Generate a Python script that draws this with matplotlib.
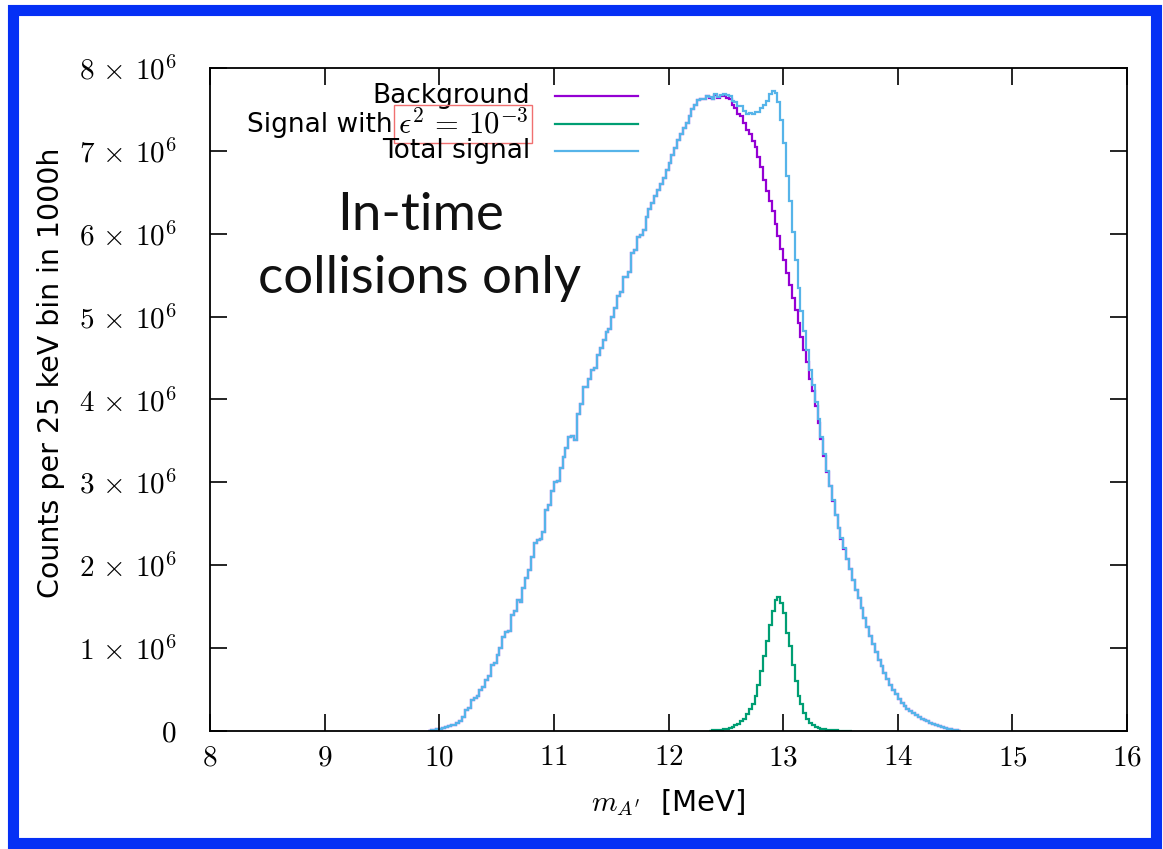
import numpy as np
import matplotlib
matplotlib.use("Agg")
import matplotlib.pyplot as plt
from matplotlib.patches import Rectangle
from matplotlib.ticker import FuncFormatter, MultipleLocator

# counts per 25 keV bin, in units of 1e6
bin_width = 0.025
bkg_start = 9.9
background = [
    0.005, 0.01, 0.015, 0.02, 0.025, 0.04, 0.045, 0.06,
    0.07, 0.075, 0.10, 0.12, 0.17, 0.25, 0.28, 0.37,
    0.40, 0.42, 0.50, 0.53, 0.61, 0.66, 0.80, 0.82,
    0.92, 1.00, 1.13, 1.19, 1.21, 1.40, 1.45, 1.58,
    1.56, 1.72, 1.85, 1.94, 2.10, 2.27, 2.30, 2.32,
    2.40, 2.67, 2.73, 2.90, 3.00, 3.02, 3.17, 3.30,
    3.41, 3.55, 3.56, 3.51, 3.83, 3.95, 4.15, 4.15,
    4.25, 4.36, 4.38, 4.54, 4.62, 4.72, 4.81, 4.85,
    5.00, 5.10, 5.25, 5.30, 5.48, 5.48, 5.54, 5.77,
    5.80, 5.96, 5.98, 6.04, 6.20, 6.30, 6.37, 6.45,
    6.53, 6.60, 6.67, 6.77, 6.85, 6.95, 7.03, 7.13,
    7.20, 7.27, 7.33, 7.42, 7.50, 7.55, 7.61, 7.63,
    7.62, 7.66, 7.64, 7.62, 7.67, 7.64, 7.66, 7.66,
    7.64, 7.62, 7.55, 7.52, 7.45, 7.42, 7.33, 7.25,
    7.20, 7.12, 7.05, 6.92, 6.80, 6.65, 6.52, 6.40,
    6.27, 6.12, 5.97, 5.82, 5.68, 5.52, 5.38, 5.22,
    5.08, 4.92, 4.75, 4.60, 4.45, 4.25, 4.10, 3.92,
    3.72, 3.52, 3.32, 3.12, 2.95, 2.78, 2.60, 2.45,
    2.32, 2.20, 2.07, 1.95, 1.82, 1.70, 1.60, 1.48,
    1.36, 1.25, 1.15, 1.05, 0.95, 0.86, 0.78, 0.70,
    0.63, 0.56, 0.50, 0.45, 0.39, 0.34, 0.30, 0.26,
    0.24, 0.22, 0.19, 0.17, 0.15, 0.13, 0.12, 0.10,
    0.09, 0.07, 0.06, 0.05, 0.04, 0.03, 0.02, 0.015,
    0.01, 0.005,
]

sig_start = 12.35
signal = [
    0.005, 0.007, 0.01, 0.012, 0.015, 0.02, 0.03, 0.04,
    0.05, 0.07, 0.09, 0.12, 0.15, 0.20, 0.26, 0.33,
    0.42, 0.55, 0.72, 0.90, 1.08, 1.28, 1.45, 1.58,
    1.62, 1.55, 1.42, 1.18, 1.02, 0.80, 0.60, 0.42,
    0.32, 0.22, 0.15, 0.10, 0.07, 0.05, 0.04, 0.03,
    0.02, 0.015, 0.01, 0.008, 0.006, 0.004, 0.003, 0.002,
    0.001, 0.001,
]

colors = {"bkg": "#9400d3", "sig": "#009e73", "tot": "#56b4e9"}

plt.rcParams['mathtext.fontset'] = 'cm'
plt.rcParams['font.family'] = ['DejaVu Sans']

bkg = np.array(background)
sig = np.array(signal)
bkg_edges = bkg_start + bin_width * np.arange(len(bkg) + 1)
sig_edges = sig_start + bin_width * np.arange(len(sig) + 1)

# total = background + signal
off = int(round((sig_start - bkg_start) / bin_width))
total = bkg.copy()
total[off:off + len(sig)] += sig

fig = plt.figure(figsize=(11.63, 8.49), dpi=100)
ax = fig.add_axes([0.1806, 0.139, 0.7885, 0.781])

lw = 1.6
ax.stairs(bkg, bkg_edges, baseline=None, color=colors["bkg"], lw=lw)
ax.stairs(sig, sig_edges, baseline=None, color=colors["sig"], lw=lw)
ax.stairs(total, bkg_edges, baseline=None, color=colors["tot"], lw=lw)

ax.set_xlim(8, 16)
ax.set_ylim(0, 8)
ax.xaxis.set_major_locator(MultipleLocator(1))
ax.yaxis.set_major_locator(MultipleLocator(1))
ax.xaxis.set_major_formatter(FuncFormatter(lambda v, p: r'$%d$' % v))
ax.yaxis.set_major_formatter(FuncFormatter(
    lambda v, p: r'$0$' if v == 0 else r'$%d\,\times\,10^{6}$' % v))
ax.tick_params(direction='in', length=12, width=1.2, top=True, right=True,
               labelsize=21)
ax.tick_params(axis='y', pad=24)
ax.tick_params(axis='x', pad=9)
for s in ax.spines.values():
    s.set_linewidth(1.3)

ax.set_ylabel("Counts per 25 keV bin in 1000h", fontsize=20.5)
ax.yaxis.set_label_coords(-0.158, 0.54)
ax.set_xlabel(r"$m_{A'}$  [MeV]", fontsize=21)
ax.xaxis.set_label_coords(0.5, -0.085)

# legend drawn by hand (red box round part of one label)
tx = 0.349
rows = [0.958, 0.9155, 0.875]
ax.text(tx, rows[0], "Background", transform=ax.transAxes, ha='right',
        va='center', fontsize=19)
eps = ax.text(tx - 0.002, rows[1], r"$\epsilon^2\, =\, 10^{-3}$",
              transform=ax.transAxes, ha='right', va='center', fontsize=22,
              bbox=dict(boxstyle='square,pad=0.12', fc='none',
                        ec='#f07070', lw=1.0))
ax.annotate("Signal with", xy=(0, 0.45), xycoords=eps, xytext=(-4, 0),
            textcoords='offset points', ha='right', va='center', fontsize=19)
ax.text(tx, rows[2], "Total signal", transform=ax.transAxes, ha='right',
        va='center', fontsize=19)
for y, key in zip(rows, ["bkg", "sig", "tot"]):
    ax.plot([0.376, 0.467], [y, y], transform=ax.transAxes, color=colors[key],
            lw=lw, clip_on=False)

ax.text(0.229, 0.778, "In-time", transform=ax.transAxes, ha='center',
        va='center', fontsize=38, fontfamily=['Lato', 'DejaVu Sans'],
        color='#111111')
ax.text(0.229, 0.683, "collisions only", transform=ax.transAxes, ha='center',
        va='center', fontsize=38, fontfamily=['Lato', 'DejaVu Sans'],
        color='#111111')

# blue frame round the whole picture
fig.patches.append(Rectangle((0.0116, 0.0071), 0.9824, 0.9809,
                             transform=fig.transFigure, fill=False,
                             ec='#0530f5', lw=8, zorder=10))

fig.savefig("out.png", dpi=100)
